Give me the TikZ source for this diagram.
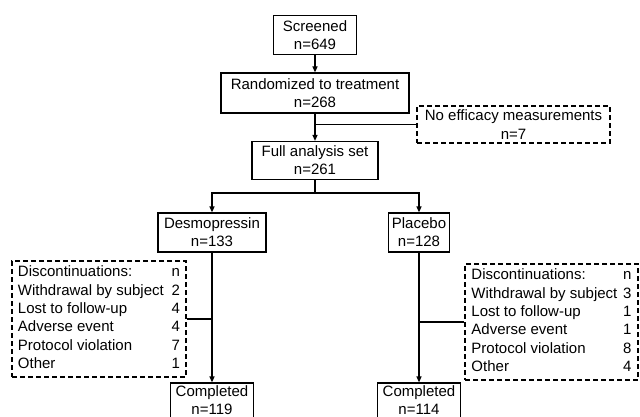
\documentclass[tikz,border=0pt]{standalone}
\usepackage{fontspec}
\setmainfont{Liberation Sans}
\usetikzlibrary{arrows.meta}
\begin{document}
\begin{tikzpicture}[x=1pt,y=-1pt,
  box/.style={draw, line width=1.2pt, align=center, inner sep=0pt,
    font=\fontsize{15}{18}\selectfont, minimum height=39pt},
  dbox/.style={draw, line width=1.2pt, dash pattern=on 5pt off 3pt, inner sep=0pt,
    font=\fontsize{15}{18.4}\selectfont},
  arr/.style={line width=1.2pt, -{Triangle[length=6pt,width=5pt]}},
  ln/.style={line width=1.2pt}]
\useasboundingbox (0,0) rectangle (640,417);
\node[box, minimum width=83pt] (scr) at (315,35) {Screened\\n=649};
\node[box, minimum width=188pt, minimum height=40pt] (rnd) at (315,93) {Randomized to treatment\\n=268};
\node[dbox, align=center, minimum width=193pt, minimum height=37pt] (noe) at (513.5,124.5) {No efficacy measurements\\n=7};
\node[box, minimum width=126pt, minimum height=38pt] (fas) at (315,160.5) {Full analysis set\\n=261};
\node[box, minimum width=108pt] (des) at (212,232.5) {Desmopressin\\n=133};
\node[box, minimum width=61pt] (pla) at (419,232.5) {Placebo\\n=128};
\node[box, minimum width=83pt, minimum height=35pt] (coml) at (212,400.5) {Completed\\n=119};
\node[box, minimum width=83pt, minimum height=35pt] (comr) at (419,400.5) {Completed\\n=114};
\node[dbox, minimum width=174pt, minimum height=116pt] (dl) at (99,319) {%
\begin{tabular}{@{}p{153.7pt}@{}r@{}}
Discontinuations: & n\\
Withdrawal by subject & 2\\
Lost to follow-up & 4\\
Adverse event & 4\\
Protocol violation & 7\\
Other & 1
\end{tabular}};
\node[dbox, minimum width=173pt, minimum height=116pt] (dr) at (551.5,322) {%
\begin{tabular}{@{}p{151.7pt}@{}r@{}}
Discontinuations: & n\\
Withdrawal by subject & 3\\
Lost to follow-up & 1\\
Adverse event & 1\\
Protocol violation & 8\\
Other & 4
\end{tabular}};
\coordinate (fork) at (315,193);
\draw[arr] (scr.south) -- (scr.south |- rnd.north);
\draw[arr] (rnd.south) -- (rnd.south |- fas.north);
\draw[ln] (rnd.south |- noe.west) -- (noe.west);
\draw[ln] (fas.south) -- (fork);
\draw[arr] (fork) -| (des.north);
\draw[arr] (fork) -| (pla.north);
\draw[arr] (des.south) -- (coml.north);
\draw[arr] (pla.south) -- (comr.north);
\draw[ln] (dl.east) -- (dl.east -| des.south);
\draw[ln] (dr.west) -- (dr.west -| pla.south);
\end{tikzpicture}
\end{document}
